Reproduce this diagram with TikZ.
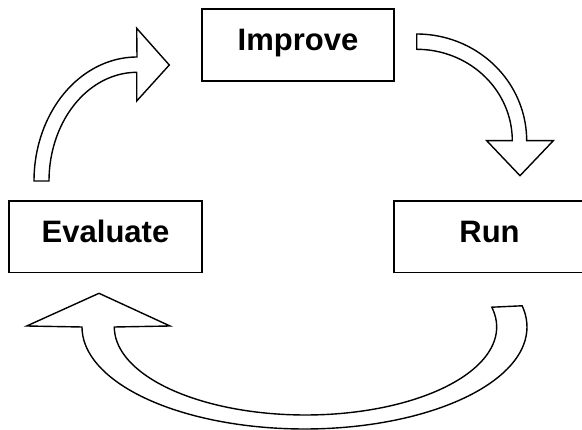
\documentclass[tikz,border=0pt]{standalone}
\usepackage{fontspec}
\setmainfont{Liberation Sans}
\begin{document}
\begin{tikzpicture}[x=1pt,y=-1pt,
  box/.style={draw=black,line width=1.6pt,fill=white,rectangle,inner sep=0pt,
    font=\fontsize{31}{37}\selectfont\bfseries,text height=11pt,text depth=0pt},
  blockarrow/.style={draw=black,line width=1.4pt,fill=white,line join=miter}]
\useasboundingbox (0,0) rectangle (582,430);
\fill[white] (0,0) rectangle (582,430);
% boxes
\node[box,minimum width=192pt,minimum height=72pt] (improve) at (298,45) {Improve};
\node[box,minimum width=193pt,minimum height=71.5pt] (evaluate) at (105.5,236.75) {Evaluate};
\node[box,minimum width=191pt,minimum height=71.5pt] (run) at (489.5,236.75) {Run};
% arrow Evaluate -> Improve
\draw[blockarrow]
  plot[domain=180:270,samples=40,smooth] ({137+103*cos(\x)},{181+124*sin(\x)})
  -- (136.7,28.3) -- (169.3,65) -- (136.7,101) -- (136.7,72.3)
  -- plot[domain=270:180,samples=40,smooth] ({137+88*cos(\x)},{181+108.7*sin(\x)})
  -- cycle;
% arrow Improve -> Run
\draw[blockarrow]
  plot[domain=270:360,samples=40,smooth] ({416.7+110*cos(\x)},{140.7+106.7*sin(\x)})
  -- (553.3,140.7) -- (520,175.7) -- (486.7,140.7) -- (512.3,140.7)
  -- plot[domain=360:270,samples=40,smooth] ({416.7+95.6*cos(\x)},{140.7+91.4*sin(\x)})
  -- cycle;
% arrow Run -> Evaluate
\draw[blockarrow]
  plot[domain=180:-13,samples=80,smooth] ({305.5+191.2*cos(\x)},{327+88*sin(\x)})
  -- plot[domain=-12:180,samples=80,smooth] ({304.5+222.5*cos(\x)},{327+102*sin(\x)})
  -- (26.7,326) -- (99,293.3) -- (170,326) -- cycle;
\end{tikzpicture}
\end{document}
